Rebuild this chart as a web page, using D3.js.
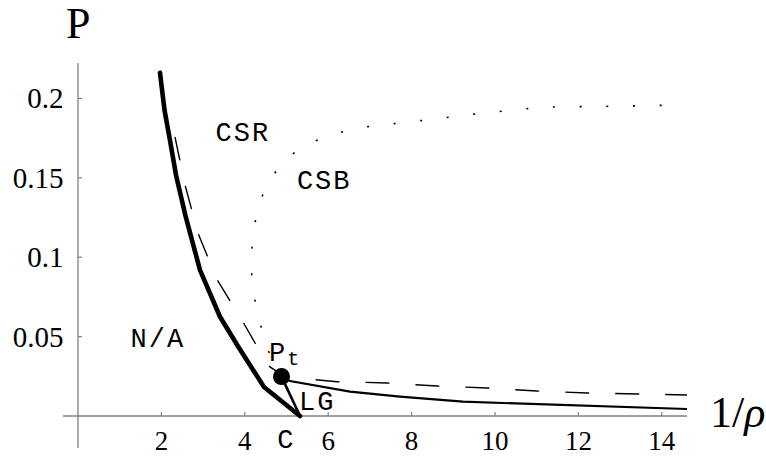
<!DOCTYPE html>
<html>
<head>
<meta charset="utf-8">
<script src="https://cdn.jsdelivr.net/npm/d3@7"></script>
<style>
  html, body { margin: 0; padding: 0; background: #fff; }
  svg { display: block; }
</style>
</head>
<body>
<svg id="chart" width="766" height="456"></svg>
<script>
// ---- data ----
const xTicks = [2, 4, 6, 8, 10, 12, 14];
const yTicks = [0.05, 0.1, 0.15, 0.2];
const yTickLabels = ["0.05", "0.1", "0.15", "0.2"];

// thick solid boundary (N/A region)
const thickX = [1.966, 2.074, 2.19, 2.35, 2.583, 2.926, 3.405, 3.844, 4.046, 4.46, 5.324];
const thickY = [0.2162, 0.1927, 0.1759, 0.1518, 0.1255, 0.0919, 0.0625, 0.0436, 0.0353, 0.0183, 0];

// dashed curve
const dashX = [2.326, 2.566, 2.878, 3.326, 3.957, 4.245, 4.604, 4.964, 5.635, 6.211, 7.41, 8.609, 9.808, 11.007, 12.206, 13.405, 14.604];
const dashY = [0.1757, 0.1455, 0.1152, 0.0863, 0.0592, 0.046, 0.0309, 0.0246, 0.023, 0.0216, 0.0208, 0.0189, 0.0176, 0.0157, 0.0145, 0.0139, 0.0132];

// thin solid (LG boundary to the right)
const lgX = [4.88, 5.084, 6.523, 7.722, 9.233, 14.604];
const lgY = [0.0248, 0.022, 0.0153, 0.0122, 0.009, 0.0044];

// Pt to C segment
const pcX = [4.88, 5.324];
const pcY = [0.0248, 0];

// dotted curve (CSR / CSB boundary)
const dotX = [4.88, 4.48, 4.34, 4.19, 4.15, 4.19, 4.30, 4.525, 4.91, 5.40, 6.02, 6.63, 7.27, 7.91, 8.54, 9.18, 9.82, 10.46, 11.10, 11.73, 12.37, 13.01, 13.65, 14.29];
const dotY = [0.0248, 0.0453, 0.0622, 0.0789, 0.0962, 0.113, 0.130, 0.146, 0.1598, 0.1702, 0.1765, 0.1812, 0.1832, 0.1851, 0.187, 0.1891, 0.191, 0.1927, 0.1944, 0.1948, 0.1948, 0.1952, 0.1954, 0.1958];

// special point Pt
const ptX = [4.88];
const ptY = [0.0248];

// region labels
const regionNames = ["CSR", "CSB", "N/A", "LG", "C"];
const regionX = [3.30, 5.25, 1.26, 5.30, 4.78];
const regionY = [0.173, 0.143, 0.0435, 0.0038, -0.0202];

// ---- drawing ----
const svg = d3.select("#chart");
const x = d3.scaleLinear().domain([0, 2]).range([78, 161.4]);
const y = d3.scaleLinear().domain([0, 0.05]).range([416, 336.6]);
const axisColor = "#808080";
const serifFont = "'Liberation Serif', 'Times New Roman', Times, serif";
const monoFont = "'Courier New', 'Liberation Mono', monospace";

// x axis line
svg.append("line")
  .attr("x1", 63).attr("x2", 687)
  .attr("y1", y(0)).attr("y2", y(0))
  .attr("stroke", axisColor).attr("stroke-width", 1.3);
// y axis line
svg.append("line")
  .attr("x1", x(0)).attr("x2", x(0))
  .attr("y1", 63).attr("y2", 448)
  .attr("stroke", axisColor).attr("stroke-width", 1.3);

// x ticks
svg.selectAll(".xt").data(xTicks).enter().append("line")
  .attr("x1", d => x(d)).attr("x2", d => x(d))
  .attr("y1", y(0)).attr("y2", y(0) - 4)
  .attr("stroke", axisColor).attr("stroke-width", 1.2);
svg.selectAll(".xl").data(xTicks).enter().append("text")
  .attr("x", d => x(d)).attr("y", 450)
  .attr("text-anchor", "middle")
  .style("font-family", serifFont)
  .style("font-size", "27px")
  .text(d => d);

// y ticks
svg.selectAll(".yt").data(yTicks).enter().append("line")
  .attr("x1", x(0)).attr("x2", x(0) + 4)
  .attr("y1", d => y(d)).attr("y2", d => y(d))
  .attr("stroke", axisColor).attr("stroke-width", 1.2);
svg.selectAll(".yl").data(yTicks).enter().append("text")
  .attr("x", 63.5).attr("y", d => y(d) + 10)
  .attr("text-anchor", "end")
  .style("font-family", serifFont)
  .style("font-size", "29px")
  .text((d, i) => yTickLabels[i]);

// axis titles
svg.append("text")
  .attr("x", 66).attr("y", 38)
  .style("font-family", serifFont)
  .style("font-size", "44px")
  .text("P");
const rt = svg.append("text")
  .attr("x", 710).attr("y", 427)
  .style("font-family", serifFont)
  .style("font-size", "44px");
rt.append("tspan").text("1/");
rt.append("tspan").style("font-style", "italic").text("ρ");

const line = d3.line().x(d => x(d[0])).y(d => y(d[1]));
const zipXY = (xs, ys) => xs.map((v, i) => [v, ys[i]]);

// dotted
svg.append("path").datum(zipXY(dotX, dotY))
  .attr("d", line).attr("fill", "none")
  .attr("stroke", "#000").attr("stroke-width", 1.6)
  .attr("stroke-dasharray", "2,24.7");

// dashed
svg.append("path").datum(zipXY(dashX, dashY))
  .attr("d", line).attr("fill", "none")
  .attr("stroke", "#000").attr("stroke-width", 1.4)
  .attr("stroke-dasharray", "24,26");

// thin solid
svg.append("path").datum(zipXY(lgX, lgY))
  .attr("d", line).attr("fill", "none")
  .attr("stroke", "#000").attr("stroke-width", 2.2);
svg.append("path").datum(zipXY(pcX, pcY))
  .attr("d", line).attr("fill", "none")
  .attr("stroke", "#000").attr("stroke-width", 2.6);

// thick solid
svg.append("path").datum(zipXY(thickX, thickY))
  .attr("d", line).attr("fill", "none")
  .attr("stroke", "#000").attr("stroke-width", 4.6)
  .attr("stroke-linecap", "round").attr("stroke-linejoin", "round");

// Pt point
svg.selectAll(".pt").data(zipXY(ptX, ptY)).enter().append("circle")
  .attr("cx", d => x(d[0])).attr("cy", d => y(d[1]))
  .attr("r", 8.5).attr("fill", "#000");

// region labels
svg.selectAll(".rl").data(regionNames).enter().append("text")
  .attr("x", (d, i) => x(regionX[i])).attr("y", (d, i) => y(regionY[i]))
  .style("font-family", monoFont)
  .style("font-size", "27px")
  .attr("letter-spacing", 2)
  .text(d => d);

// Pt label
const ptl = svg.append("text")
  .attr("x", 269).attr("y", 361)
  .style("font-family", monoFont)
  .style("font-size", "27px");
ptl.append("tspan").text("P");
ptl.append("tspan").style("font-size", "20px").attr("dy", 4).attr("dx", 2).text("t");
</script>
</body>
</html>
